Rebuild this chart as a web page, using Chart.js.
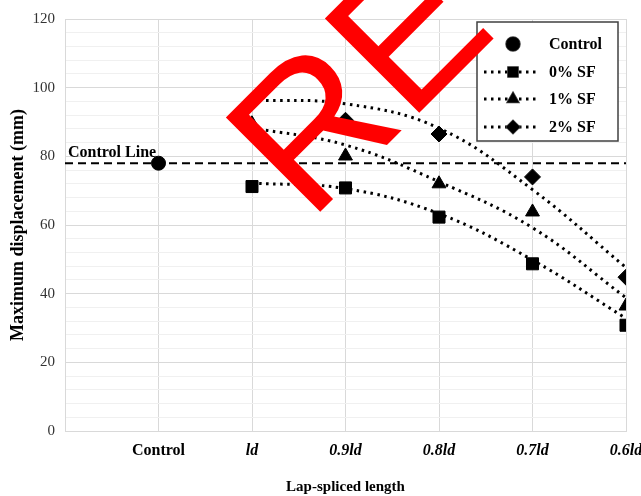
<!DOCTYPE html>
<html>
<head>
<meta charset="utf-8">
<script src="https://cdn.jsdelivr.net/npm/chart.js@4.4.0/dist/chart.umd.min.js"></script>
<style>
  html, body { margin: 0; padding: 0; background: #fff; }
  #wrap { width: 641px; height: 496px; }
</style>
</head>
<body>
<div id="wrap"><canvas id="myChart" width="641" height="496"></canvas></div>
<script>
// categories on the x axis (positions 1..6)
const xLabels = ["Control", "ld", "0.9ld", "0.8ld", "0.7ld", "0.6ld"]
const xPos = [1, 2, 3, 4, 5, 6]

// control specimen
const controlValue = 78
const controlLine = 78

// measured points (ld .. 0.6ld)
const sf0 = [71.2, 70.8, 62.3, 48.7, 30.8]
const sf1 = [89.5, 80.1, 72, 63.8, 36.4]
const sf2 = [88, 90.5, 86.5, 74, 44.8]

// trendline values read at each category (ld .. 0.6ld)
const trend0 = [72.2, 70.6, 63.3, 49.8, 32.8]
const trend1 = [88.3, 83.3, 72.6, 59.2, 38.8]
const trend2 = [96.4, 95.3, 88.2, 70.3, 47.6]

const serif = '"Liberation Serif", "Times New Roman", serif'

function pts(vals) {
	return vals.map((v, i) => ({ x: xPos[i + 1], y: v }))
}

const dotted = [2.5, 4.5]

const datasets = [
	{
		label: "Control", data: [{ x: xPos[0], y: controlValue }],
		pointStyle: "circle", pointRadius: 7, backgroundColor: "#000", borderColor: "#000",
		showLine: false, legendLine: false, legendScale: 1, order: 1
	},
	{
		label: "0% SF", data: pts(sf0),
		pointStyle: "rect", pointRadius: 8.5, backgroundColor: "#000", borderColor: "#000",
		showLine: false, legendLine: true, legendScale: 0.85, order: 1
	},
	{
		label: "1% SF", data: pts(sf1),
		pointStyle: "triangle", pointRadius: 8, backgroundColor: "#000", borderColor: "#000",
		showLine: false, legendLine: true, legendScale: 0.85, order: 1
	},
	{
		label: "2% SF", data: pts(sf2),
		pointStyle: "rectRot", pointRadius: 8, backgroundColor: "#000", borderColor: "#000",
		showLine: false, legendLine: true, legendScale: 0.85, order: 1
	},
	{
		label: "trend0", data: pts(trend0), showLine: true, tension: 0.4, pointRadius: 0,
		borderColor: "#000", borderWidth: 3, borderDash: dotted, borderCapStyle: "butt", order: 2
	},
	{
		label: "trend1", data: pts(trend1), showLine: true, tension: 0.4, pointRadius: 0,
		borderColor: "#000", borderWidth: 3, borderDash: dotted, borderCapStyle: "butt", order: 2
	},
	{
		label: "trend2", data: pts(trend2), showLine: true, tension: 0.4, pointRadius: 0,
		borderColor: "#000", borderWidth: 3, borderDash: dotted, borderCapStyle: "butt", order: 2
	},
	{
		label: "Control Line", data: [{ x: 0, y: controlLine }, { x: 6, y: controlLine }],
		showLine: true, pointRadius: 0, borderColor: "#000", borderWidth: 2,
		borderDash: [8, 5], order: 3
	}
]

// custom legend box + labels + red overlay text
const extras = {
	id: "extras",
	afterDatasetsDraw(chart) {
		const ctx = chart.ctx
		const xs = chart.scales.x
		const ys = chart.scales.y

		// "Control Line" label
		ctx.save()
		ctx.font = "bold 16px " + serif
		ctx.fillStyle = "#000"
		ctx.textBaseline = "alphabetic"
		ctx.fillText("Control Line", xs.getPixelForValue(0) + 3, ys.getPixelForValue(controlLine) - 6)
		ctx.restore()

		// legend
		ctx.save()
		const bx = 477, by = 22, bw = 141, bh = 119
		ctx.fillStyle = "#fff"
		ctx.fillRect(bx, by, bw, bh)
		ctx.strokeStyle = "#404040"
		ctx.lineWidth = 1.5
		ctx.strokeRect(bx, by, bw, bh)
		const rows = [44, 72, 99, 127]
		for (let i = 0; i < 4; i++) {
			const ds = chart.data.datasets[i]
			const y = rows[i]
			if (ds.legendLine) {
				ctx.save()
				ctx.strokeStyle = "#000"
				ctx.lineWidth = 3
				ctx.setLineDash(dotted)
				ctx.beginPath()
				ctx.moveTo(484, y)
				ctx.lineTo(536, y)
				ctx.stroke()
				ctx.restore()
			}
			Chart.helpers.drawPoint(ctx, {
				pointStyle: ds.pointStyle, rotation: 0, borderWidth: 1,
				radius: ds.pointRadius * ds.legendScale
			}, 513, y)
			ctx.fillStyle = "#000"
			ctx.fill()
			ctx.font = "bold 16px " + serif
			ctx.textBaseline = "middle"
			ctx.fillText(ds.label, 549, y + 1)
		}
		ctx.restore()
	},
	afterDraw(chart) {
		const ctx = chart.ctx
		ctx.save()
		ctx.translate(309, 223)
		ctx.rotate(-45 * Math.PI / 180)
		ctx.fillStyle = "#ff0000"
		ctx.font = '194px "Liberation Sans", Arial, sans-serif'
		ctx.fillText("RE", 0, 0)
		ctx.restore()
	}
}

new Chart("myChart", {
	type: "scatter",
	data: { datasets: datasets },
	options: {
		responsive: false,
		animation: false,
		layout: { padding: { top: 19, right: 15, left: 0, bottom: 0 } },
		plugins: {
			legend: { display: false },
			tooltip: { enabled: false }
		},
		scales: {
			x: {
				type: "linear",
				min: 0,
				max: 6,
				afterBuildTicks: (scale) => {
					scale.ticks = [0, 1, 2, 3, 4, 5, 6].map(v => ({ value: v }))
				},
				afterFit: (scale) => {
					scale.height = 65
					scale.paddingLeft = 0
					scale.paddingRight = 0
				},
				grid: { color: "#d9d9d9", lineWidth: 1, drawTicks: false },
				border: { color: "#d9d9d9" },
				ticks: {
					padding: 10,
					maxRotation: 0,
					autoSkip: false,
					color: "#000",
					font: (c) => ({
						family: serif, size: 16, weight: "bold",
						style: c.tick && c.tick.value === 1 ? "normal" : "italic"
					}),
					callback: (v) => (v >= 1 && v <= 6 ? xLabels[v - 1] : "")
				},
				title: {
					display: true,
					text: "Lap-spliced length",
					color: "#000",
					font: { family: serif, size: 15, weight: "bold" },
					padding: { top: 13, bottom: 0 }
				}
			},
			y: {
				min: 0,
				max: 120,
				afterFit: (scale) => { scale.width = 65 },
				grid: {
					drawTicks: false,
					color: (c) => (c.tick && c.tick.value % 20 === 0 ? "#d9d9d9" : "#f0f0f0"),
					lineWidth: 1
				},
				border: { color: "#d9d9d9" },
				ticks: {
					stepSize: 4,
					padding: 10,
					autoSkip: false,
					color: "#333",
					font: { family: serif, size: 15 },
					callback: (v) => (v % 20 === 0 ? v : "")
				},
				title: {
					display: true,
					text: "Maximum displacement (mm)",
					color: "#000",
					font: { family: serif, size: 18, weight: "bold" },
					padding: { top: 8, bottom: 0 }
				}
			}
		}
	},
	plugins: [extras]
})
</script>
</body>
</html>
